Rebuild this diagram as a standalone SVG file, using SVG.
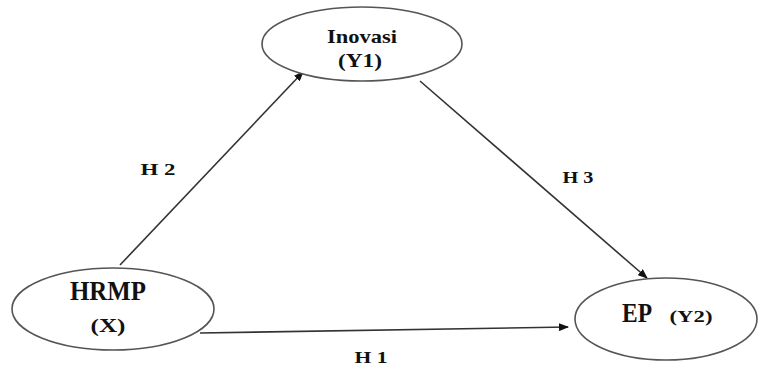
<svg xmlns="http://www.w3.org/2000/svg" width="760" height="369" viewBox="0 0 760 369">
<style>
.node ellipse{fill:#fff;stroke:#555;stroke-width:1.6}
.t{font-family:"Liberation Serif","DejaVu Serif",serif;fill:#111;text-anchor:middle}
.b{font-weight:bold}
.conn line{stroke:#333;stroke-width:1.6}
</style>
<defs>
<marker id="ah" markerWidth="10" markerHeight="8" refX="9" refY="4" orient="auto" markerUnits="userSpaceOnUse">
<path d="M0,0 L10,4 L0,8 z" fill="#111"/>
</marker>
</defs>
<rect width="760" height="369" fill="#fff"/>
<g class="conn">
<line x1="120" y1="265" x2="303" y2="72" marker-end="url(#ah)"/>
<line x1="420" y1="81" x2="647" y2="278" marker-end="url(#ah)"/>
<line x1="200" y1="333" x2="568" y2="327" marker-end="url(#ah)"/>
</g>
<g id="inovasi" class="node">
<ellipse cx="362" cy="44" rx="100" ry="37"/>
<text class="t b" x="362" y="43" font-size="19" textLength="70" lengthAdjust="spacingAndGlyphs">Inovasi</text>
<text class="t b" x="360" y="67" font-size="18" textLength="44" lengthAdjust="spacingAndGlyphs">(Y1)</text>
</g>
<g id="hrmp" class="node">
<ellipse cx="113" cy="309" rx="101" ry="41"/>
<text class="t" x="108" y="300" font-size="27" textLength="76" lengthAdjust="spacingAndGlyphs" style="font-weight:bold">HRMP</text>
<text class="t b" x="108" y="332" font-size="18" textLength="35" lengthAdjust="spacingAndGlyphs">(X)</text>
</g>
<g id="ep" class="node">
<ellipse cx="666" cy="319" rx="91" ry="41"/>
<text class="t" x="637" y="322" font-size="27" textLength="30" lengthAdjust="spacingAndGlyphs" style="font-weight:bold">EP</text>
<text class="t b" x="691" y="322" font-size="16" textLength="43" lengthAdjust="spacingAndGlyphs">(Y2)</text>
</g>
<g id="labels">
<text class="t b" x="158" y="175" font-size="17" textLength="35" lengthAdjust="spacingAndGlyphs">H 2</text>
<text class="t b" x="578" y="183" font-size="17" textLength="31" lengthAdjust="spacingAndGlyphs">H 3</text>
<text class="t b" x="371" y="363" font-size="17" textLength="33" lengthAdjust="spacingAndGlyphs">H 1</text>
</g>
</svg>
